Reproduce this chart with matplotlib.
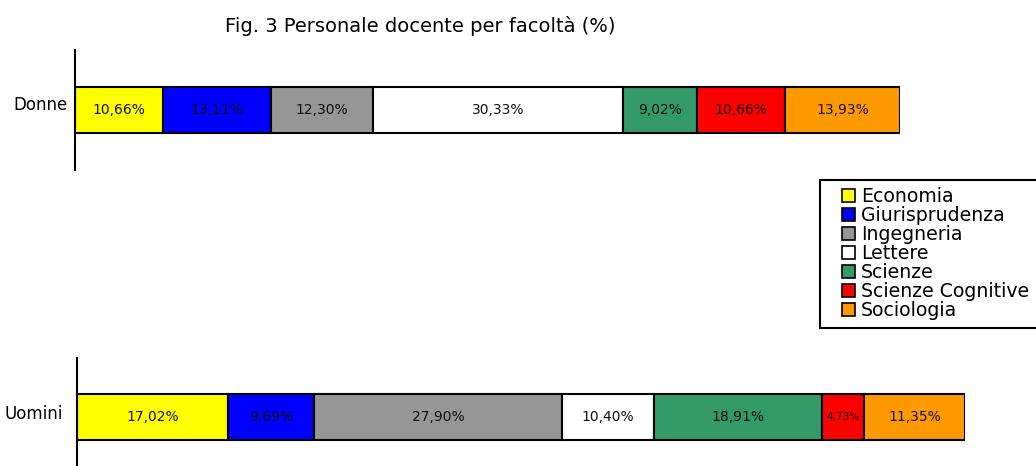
import matplotlib.pyplot as plt
from matplotlib.patches import Rectangle

# faculties and shares (%)
facolta = ["Economia", "Giurisprudenza", "Ingegneria", "Lettere",
           "Scienze", "Scienze Cognitive", "Sociologia"]
donne = [10.66, 13.11, 12.30, 30.33, 9.02, 10.66, 13.93]
uomini = [17.02, 9.69, 27.90, 10.40, 18.91, 4.73, 11.35]
colori = ["#FFFF00", "#0000FF", "#969696", "#FFFFFF",
          "#339966", "#FF0000", "#FF9900"]

plt.rcParams["font.family"] = ["DejaVu Sans"]

W, H = 1036, 466
fig = plt.figure(figsize=(W / 100, H / 100), dpi=100)


def px_axes(left, top, width, height):
    # axes placed in pixel coordinates of the figure
    return fig.add_axes([left / W, 1 - (top + height) / H, width / W, height / H])


def draw_bar(ax, name, values, bar_h, lab_y, pad):
    start = 0
    handles = []
    for val, col, fac in zip(values, colori, facolta):
        h = ax.barh(0, val, left=start, height=bar_h, color=col,
                    edgecolor="black", linewidth=1.5, label=fac)
        txt = f"{val:.2f}%".replace(".", ",")
        fs = 10 if val > 6 else 7.5
        ax.text(start + val / 2, 0, txt, ha="center", va="center",
                fontsize=fs, color="#111111")
        handles.append(h)
        start += val
    ax.set_xlim(0, 100)
    ax.set_ylim(-1, 1)
    for s in ["top", "right", "bottom"]:
        ax.spines[s].set_visible(False)
    ax.spines["left"].set_linewidth(1.5)
    ax.set_xticks([])
    ax.set_yticks([lab_y])
    ax.set_yticklabels([name], fontsize=12)
    ax.tick_params(axis="y", length=0, pad=pad)
    return handles


ax1 = px_axes(75, 50, 825, 120)
handles = draw_bar(ax1, "Donne", donne, 46 / 120 * 2, 0.12, 5)

ax2 = px_axes(77, 358, 888, 118)
draw_bar(ax2, "Uomini", uomini, 46 / 118 * 2, 0.09, 10)

fig.text(420 / W, 1 - 26 / H, "Fig. 3 Personale docente per facoltà (%)",
         ha="center", va="center", fontsize=14)

# legend box, cut off at the right edge like the original
fig.patches.append(Rectangle((820 / W, 1 - 328 / H), 240 / W, 148 / H,
                             transform=fig.transFigure, facecolor="white",
                             edgecolor="black", linewidth=1.5))
leg = fig.legend(handles=handles, labels=facolta, loc="upper left",
                 bbox_to_anchor=(842 / W, 1 - 187 / H), fontsize=13.6,
                 labelspacing=0.0, handlelength=0.7, handleheight=0.7,
                 handletextpad=0.3, borderpad=0, borderaxespad=0,
                 frameon=False)
for p in leg.get_patches():
    p.set_linewidth(1.2)

fig.savefig("out.png", dpi=100)
